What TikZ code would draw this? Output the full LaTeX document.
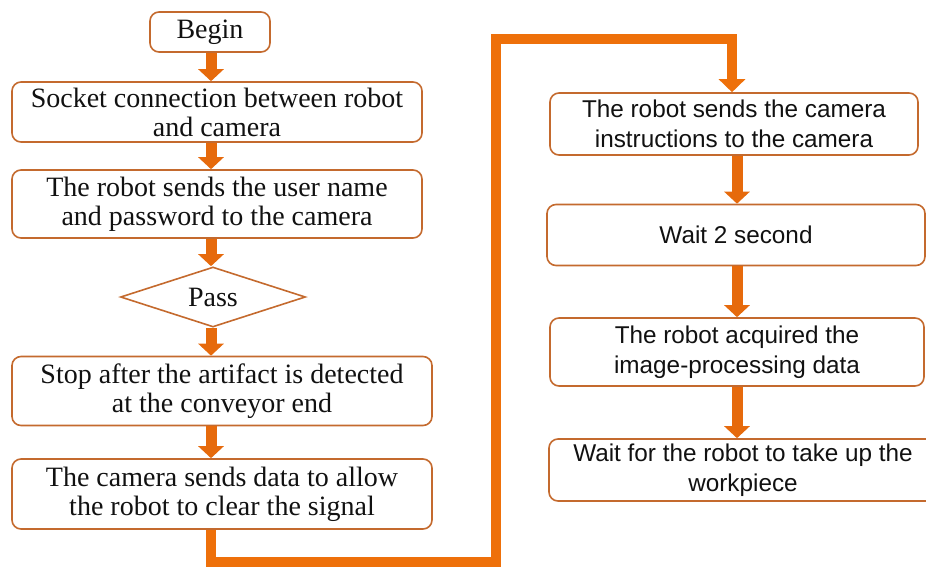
\documentclass[tikz,border=0pt]{standalone}
\usepackage{fontspec}
\setmainfont{Liberation Serif}
\setsansfont{Liberation Sans}
\usepackage{tikz}
\usetikzlibrary{arrows.meta,shapes.geometric}
\usepackage{xcolor}
\definecolor{flEdge}{HTML}{C46A2E}
\definecolor{flArrow}{HTML}{E66A0C}
\definecolor{flLink}{HTML}{EE700A}
\definecolor{flInk}{HTML}{111111}

\tikzset{
  stepbox/.style={draw=flEdge, line width=1.6pt, rounded corners=9pt,
    align=center, inner sep=0, text=flInk,
    font=\fontsize{28}{29}\selectfont},
  stepsans/.style={stepbox, font=\sffamily\fontsize{24.3}{29.5}\selectfont},
  passbox/.style={draw=flEdge, line width=1.6pt, diamond, shape aspect=3,
    inner sep=0, text=flInk, font=\fontsize{28}{29}\selectfont},
  flowarrow/.style={draw=flArrow, line width=11pt,
    -{Triangle[width=25pt,length=12pt]}},
  linkarrow/.style={draw=flLink, line width=10pt,
    -{Triangle[width=26pt,length=13pt]}}
}

\begin{document}
\begin{tikzpicture}[x=1pt, y=-1pt]

\useasboundingbox (0,0) rectangle (926,570);

% --- left column ---
\node[stepbox, minimum width=120, minimum height=40] (nBegin) at (210,32) {Begin};
\node[stepbox, minimum width=410, minimum height=60] (nSocket) at (217,112)
  {Socket connection between robot\\and camera};
\node[stepbox, minimum width=410, minimum height=68] (nLogin) at (217,204)
  {The robot sends the user name\\and password to the camera};
\node[passbox, minimum width=185, minimum height=60] (nPass) at (213,297) {Pass};
\node[stepbox, minimum width=420, minimum height=69] (nStop) at (222,391)
  {Stop after the artifact is detected\\at the conveyor end};
\node[stepbox, minimum width=420, minimum height=70] (nClear) at (222,494)
  {The camera sends data to allow\\the robot to clear the signal};

% --- right column ---
\node[stepsans, minimum width=368, minimum height=62] (nInstr) at (734,124)
  {The robot sends the camera\\instructions to the camera};
\node[stepsans, minimum width=378, minimum height=61] (nWait) at (736,235)
  {Wait 2 second};
\node[stepsans, minimum width=374, minimum height=68] (nAcquire) at (737,352)
  {The robot acquired the\\image-processing data};
\node[stepsans, minimum width=388, minimum height=62] (nPickup) at (743,470)
  {Wait for the robot to take up the\\workpiece};

% --- arrows, left ---
\coordinate (xL) at (211,0);
\draw[flowarrow] (nBegin.south -| xL) -- (nSocket.north -| xL);
\draw[flowarrow] (nSocket.south -| xL) -- (nLogin.north -| xL);
\draw[flowarrow] (nLogin.south -| xL) -- (nPass.north -| xL);
\draw[flowarrow] (nPass.south -| xL) -- (nStop.north -| xL);
\draw[flowarrow] (nStop.south -| xL) -- (nClear.north -| xL);

% --- arrows, right ---
\coordinate (xR) at (737,0);
\draw[flowarrow] (nInstr.south -| xR) -- (nWait.north -| xR);
\draw[flowarrow] (nWait.south -| xR) -- (nAcquire.north -| xR);
\draw[flowarrow] (nAcquire.south -| xR) -- (nPickup.north -| xR);

% --- link between the two columns ---
\coordinate (turnLow) at (496,562);
\coordinate (turnTop) at (496,39);
\coordinate (xTop) at (732,0);
\draw[linkarrow] (nClear.south -| xL) |- (turnLow) -- (turnTop)
  -| (nInstr.north -| xTop);

\end{tikzpicture}
\end{document}
